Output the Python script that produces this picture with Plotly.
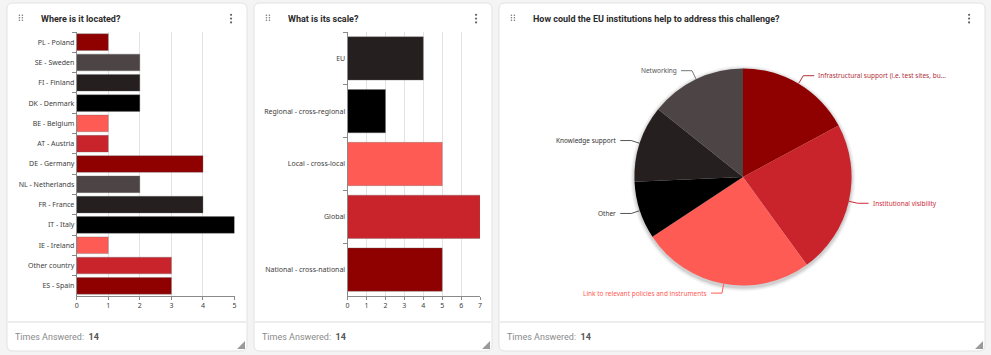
import math
import plotly.graph_objects as go

W, H = 991, 355

# ---------------- data ----------------
loc_categories = ["PL - Poland", "SE - Sweden", "FI - Finland", "DK - Denmark", "BE - Belgium",
                  "AT - Austria", "DE - Germany", "NL - Netherlands", "FR - France", "IT - Italy",
                  "IE - Ireland", "Other country", "ES - Spain"]
loc_values = [1, 2, 2, 2, 1, 1, 4, 2, 4, 5, 1, 3, 3]

scale_categories = ["EU", "Regional - cross-regional", "Local - cross-local", "Global",
                    "National - cross-national"]
scale_values = [4, 2, 5, 7, 5]

help_labels = ["Infrastructural support (i.e. test sites, bu...", "Institutional visibility",
               "Link to relevant policies and instruments", "Other", "Knowledge support", "Networking"]
help_values = [6, 8, 9, 3, 4, 5]

card_titles = ["Where is it located?", "What is its scale?",
               "How could the EU institutions help to address this challenge?"]
times_answered = [14, 14, 14]

x1_ticks = [0, 1, 2, 3, 4, 5]
x2_ticks = [0, 1, 2, 3, 4, 5, 6, 7]

# ---------------- styles ----------------
DRED, GREY, DGREY, BLACK, SALMON, RED = "#8f0000", "#4d4545", "#251f1f", "#000000", "#ff5b55", "#c9242c"
loc_cycle = [DRED, GREY, DGREY, BLACK, SALMON, RED]
loc_colors = [loc_cycle[i % 6] for i in range(len(loc_values))]
scale_colors = [DGREY, BLACK, SALMON, RED, DRED]
pie_colors = [DRED, RED, SALMON, BLACK, DGREY, GREY]
pie_text_colors = ["#b0303a", "#cc2b36", "#ff5b55", "#333333", "#333333", "#555555"]
pie_line_colors = ["#b0303a", "#cc2b36", "#ff5b55", "#555555", "#555555", "#777777"]

TICKFONT = dict(family="Noto Sans", size=7, color="#3d3d3d")


def px(x):
    return x / W


def py(y):
    return 1 - y / H


def rounded_rect(x0, y0, x1, y1, r):
    pts = [
        f"M {px(x0 + r)},{py(y0)}",
        f"L {px(x1 - r)},{py(y0)}",
        f"Q {px(x1)},{py(y0)} {px(x1)},{py(y0 + r)}",
        f"L {px(x1)},{py(y1 - r)}",
        f"Q {px(x1)},{py(y1)} {px(x1 - r)},{py(y1)}",
        f"L {px(x0 + r)},{py(y1)}",
        f"Q {px(x0)},{py(y1)} {px(x0)},{py(y1 - r)}",
        f"L {px(x0)},{py(y0 + r)}",
        f"Q {px(x0)},{py(y0)} {px(x0 + r)},{py(y0)}",
        "Z",
    ]
    return " ".join(pts)


fig = go.Figure()

fig.add_trace(go.Bar(
    x=loc_values, y=loc_categories, orientation="h",
    marker=dict(color=loc_colors, line=dict(color="rgba(110,110,110,0.35)", width=1)),
    xaxis="x", yaxis="y", showlegend=False, hoverinfo="x+y",
))
fig.add_trace(go.Bar(
    x=scale_values, y=scale_categories, orientation="h",
    marker=dict(color=scale_colors, line=dict(color="rgba(110,110,110,0.35)", width=1)),
    xaxis="x2", yaxis="y2", showlegend=False, hoverinfo="x+y",
))

# pie geometry (pixels)
CX, CY, R = 744, 177, 109
fig.add_trace(go.Pie(
    labels=help_labels, values=help_values, sort=False, direction="clockwise", rotation=0,
    marker=dict(colors=pie_colors, line=dict(width=0)),
    textinfo="none", showlegend=False,
    domain=dict(x=[px(CX - R), px(CX + R)], y=[py(CY + R), py(CY - R)]),
))

shapes = []
annotations = []

cards = [(5, 3, 246, 351), (253, 3, 492, 351), (499, 3, 987, 351)]
for i, (x0, y0, x1, y1) in enumerate(cards):
    shapes.append(dict(type="path", path=rounded_rect(x0, y0, x1, y1, 6), xref="paper", yref="paper",
                       fillcolor="#ffffff", line=dict(color="#e2e2e2", width=1), layer="below"))
    # footer separator
    shapes.append(dict(type="line", xref="paper", yref="paper", x0=px(x0 + 1), x1=px(x1 - 1),
                       y0=py(322), y1=py(322), line=dict(color="#ededed", width=2), layer="below"))
    # resize handle
    shapes.append(dict(type="path", xref="paper", yref="paper",
                       path=f"M {px(x1 - 2)},{py(y1 - 10)} L {px(x1 - 2)},{py(y1 - 2)} L {px(x1 - 10)},{py(y1 - 2)} Z",
                       fillcolor="#9a9a9a", line=dict(width=0), layer="above"))
    # drag dots
    for cx in (x0 + 12.5, x0 + 15.5):
        for cy in (15.3, 17.8, 20.3):
            shapes.append(dict(type="circle", xref="paper", yref="paper",
                               x0=px(cx - 0.8), x1=px(cx + 0.8), y0=py(cy + 0.8), y1=py(cy - 0.8),
                               fillcolor="#7a7a7a", line=dict(width=0)))
    # kebab
    for cy in (14.8, 18.6, 22.4):
        kx = x1 - 16
        shapes.append(dict(type="circle", xref="paper", yref="paper",
                           x0=px(kx - 1.1), x1=px(kx + 1.1), y0=py(cy + 1.1), y1=py(cy - 1.1),
                           fillcolor="#666666", line=dict(width=0)))
    annotations.append(dict(text=f"<b>{card_titles[i]}</b>", x=px(x0 + 32), y=py(19), xref="paper", yref="paper",
                            xanchor="left", yanchor="middle", showarrow=False,
                            font=dict(family="Roboto", size=9, color="#2b2b2b")))
    annotations.append(dict(text=f"Times Answered:&nbsp; <b><span style='color:#555555'>{times_answered[i]}</span></b>",
                            x=px(x0 + 6), y=py(337), xref="paper", yref="paper",
                            xanchor="left", yanchor="middle", showarrow=False,
                            font=dict(family="Roboto", size=9, color="#8a8a8a")))

# pie shadow (soft rings)
for k, op in [(4, 0.03), (3, 0.04), (2, 0.05), (1, 0.07)]:
    shapes.append(dict(type="circle", xref="paper", yref="paper",
                       x0=px(CX - R - k), x1=px(CX + R + k), y0=py(CY + R + k + 1.5), y1=py(CY - R - k + 1.5),
                       fillcolor=f"rgba(0,0,0,{op})", line=dict(width=0), layer="below"))

# pie labels with leader lines computed from the data
total = sum(help_values)
cum = 0
L1, L2 = 9, 11
for lab, v, tc, lc in zip(help_labels, help_values, pie_text_colors, pie_line_colors):
    mid = (cum + v / 2) / total * 2 * math.pi
    cum += v
    sx, sy = math.sin(mid), -math.cos(mid)
    ex, ey = CX + R * sx, CY + R * sy
    bx, by = CX + (R + L1) * sx, CY + (R + L1) * sy
    side = 1 if sx >= 0 else -1
    hx = bx + side * L2
    shapes.append(dict(type="path", xref="paper", yref="paper",
                       path=f"M {px(ex)},{py(ey)} L {px(bx)},{py(by)} L {px(hx)},{py(by)}",
                       line=dict(color=lc, width=1)))
    annotations.append(dict(text=lab, x=px(hx + side * 2), y=py(by), xref="paper", yref="paper",
                            xanchor="left" if side > 0 else "right", yanchor="middle", showarrow=False,
                            font=dict(family="Noto Sans", size=6.5, color=tc)))

axis_common = dict(showline=True, linecolor="#8a8a8a", linewidth=1, ticks="outside", tickcolor="#8a8a8a",
                   tickfont=TICKFONT, zeroline=False, fixedrange=True)

fig.update_layout(
    width=W, height=H, margin=dict(l=0, r=0, t=0, b=0),
    paper_bgcolor="#f4f4f4", plot_bgcolor="#ffffff",
    bargap=0.18,
    xaxis=dict(domain=[px(75), px(233.5)], range=[0, 5], tickvals=x1_ticks, ticklen=3,
               showgrid=True, gridcolor="#e3e3e3", anchor="y", **axis_common),
    yaxis=dict(domain=[py(296), py(32)], autorange="reversed", type="category", tickson="boundaries",
               ticklen=4, showgrid=False, anchor="x", **axis_common),
    xaxis2=dict(domain=[px(347), px(480)], range=[0, 7], tickvals=x2_ticks, ticklen=3,
                showgrid=True, gridcolor="#e3e3e3", anchor="y2", **axis_common),
    yaxis2=dict(domain=[py(296), py(32)], autorange="reversed", type="category", tickson="boundaries",
                ticklen=4, showgrid=False, anchor="x2", **axis_common),
    shapes=shapes,
    annotations=annotations,
)

fig.write_html("out.html", config={"displayModeBar": False},
               post_script="document.body.style.margin='0';document.body.style.overflow='hidden';")
